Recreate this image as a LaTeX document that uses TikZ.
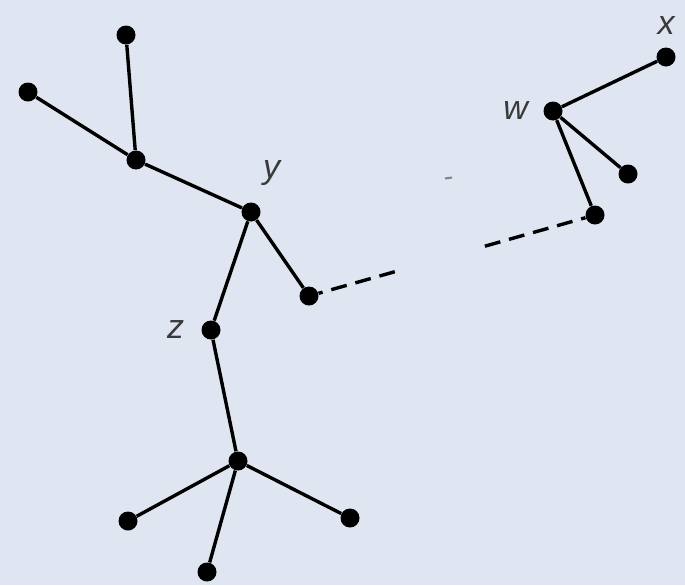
\documentclass[tikz,border=0pt]{standalone}
\usepackage{fontspec}
\setmainfont{Liberation Sans}
\usetikzlibrary{calc}
\definecolor{bgblue}{HTML}{DFE6F1}
\definecolor{lblgray}{HTML}{3A3A3A}
\tikzset{
  dot/.style={circle, fill=black, inner sep=0pt, minimum size=9.5pt},
  edge/.style={line width=1.7pt},
  lbl/.style={text=lblgray, font=\fontsize{17}{17}\selectfont\itshape},
}
\begin{document}
\begin{tikzpicture}[x=0.5pt, y=-0.5pt]
    % Background
    \fill[bgblue] (0,0) rectangle (685,585);
    \useasboundingbox (0,0) rectangle (685,585);

    % Left tree
    \node[dot] (top) at (126,35) {};
    \node[dot] (left) at (28,92) {};
    \node[dot] (c) at (136,160) {};
    \node[dot, label={[lbl, label distance=5pt]75:y}] (y) at (251,212) {};
    \node[dot] (d) at (309,296) {};
    \node[dot, label={[lbl, label distance=5pt]180:z}] (z) at (211,330) {};
    \node[dot] (e) at (238,461) {};
    \node[dot] (f) at (128,521) {};
    \node[dot] (g) at (207,572) {};
    \node[dot] (h) at (350,518) {};

    % Right tree
    \node[dot, label={[lbl, label distance=4pt]180:w}] (w) at (553,111) {};
    \node[dot, label={[lbl, label distance=3pt]90:x}] (x) at (666,57) {};
    \node[dot] (i) at (628,174) {};
    \node[dot] (j) at (595,215) {};

    \draw[edge] (top) -- (c) (left) -- (c) -- (y) -- (d);
    \draw[edge] (y) -- (z) -- (e) (e) -- (f) (e) -- (g) (e) -- (h);
    \draw[edge] (w) -- (x) (w) -- (i) (w) -- (j);

    % Broken dashed link
    \coordinate (gapa) at ($(d)!0.30!(j)$);
    \coordinate (gapb) at ($(d)!0.615!(j)$);
    \draw[edge, dash pattern=on 8pt off 4.5pt] (gapa) -- (d);
    \draw[edge, dash pattern=on 8pt off 4.5pt] (gapb) -- (j);
    \draw[line width=1pt, gray] (445,178.5) -- (452,177.5);
\end{tikzpicture}
\end{document}
